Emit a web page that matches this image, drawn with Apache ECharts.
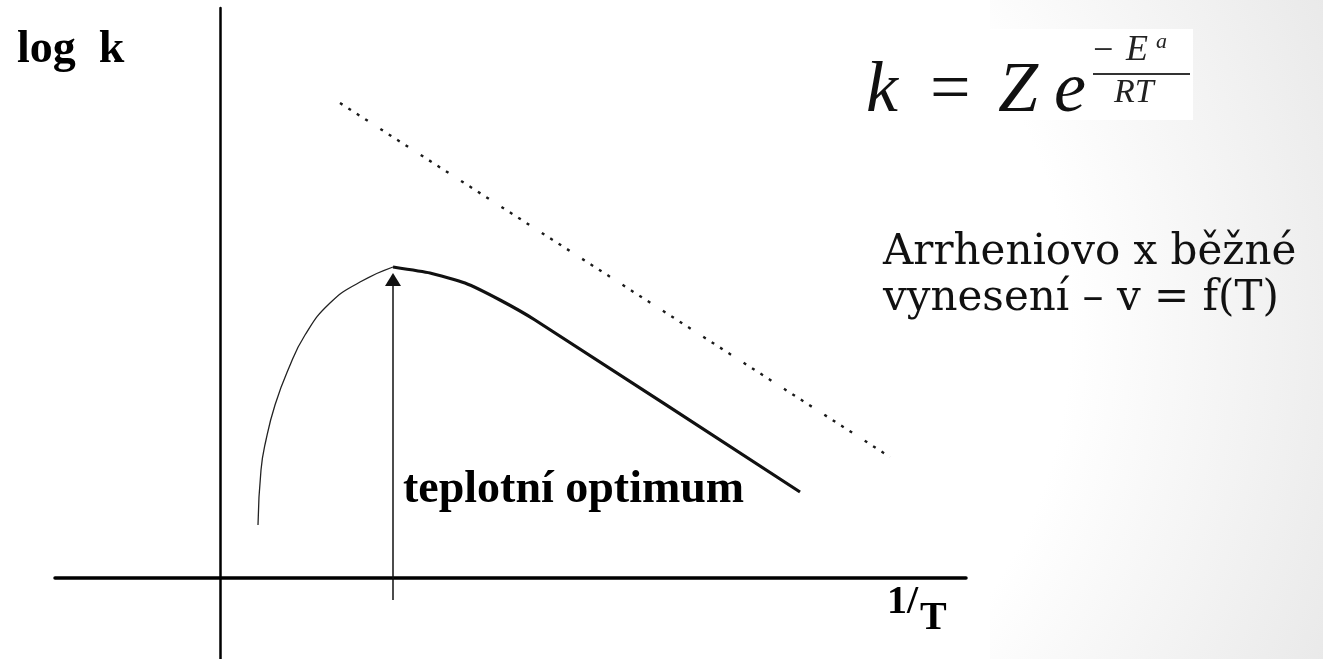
<!DOCTYPE html>
<html>
<head>
<meta charset="utf-8">
<script src="https://cdn.jsdelivr.net/npm/echarts@6/dist/echarts.min.js"></script>
<style>
  html, body { margin: 0; padding: 0; }
  body {
    width: 1323px; height: 659px; overflow: hidden;
    background: radial-gradient(circle at 600px 330px, #ffffff 470px, #e9e9e9 800px);
  }
  #chart { width: 1323px; height: 659px; }
</style>
</head>
<body>
<div id="chart"></div>
<script>
// rostoucí (tenká) část křivky až k optimu
var riseX = [0.38, 0.41, 0.46, 0.55, 0.68, 0.85, 1.10, 1.40, 1.73];
var riseY = [0.53, 1.08, 1.38, 1.73, 2.08, 2.43, 2.75, 2.96, 3.11];
// klesající (tlustá) část za optimem
var fallX = [1.73, 2.10, 2.45, 2.80, 3.15, 5.80];
var fallY = [3.11, 3.05, 2.95, 2.78, 2.58, 0.86];
// tečkovaná Arrheniova přímka
var lineX = [1.20, 6.70];
var lineY = [4.75, 1.21];
// šipka – teplotní optimum
var arrowX = [1.73, 1.73];
var arrowY = [-0.22, 2.985];

function pairs(xs, ys) {
  return xs.map(function (x, i) { return [x, ys[i]]; });
}

var myChart = echarts.init(document.getElementById('chart'));

var serif = '"Liberation Serif", "Times New Roman", serif';

var option = {
  animation: false,
  backgroundColor: 'transparent',
  grid: { left: 55, right: 357, top: 8, bottom: 0, containLabel: false },
  xAxis: {
    type: 'value', min: -1.65, max: 7.46,
    axisLine: { onZero: true, lineStyle: { color: '#000', width: 3.5 } },
    axisTick: { show: false }, axisLabel: { show: false }, splitLine: { show: false }
  },
  yAxis: {
    type: 'value', min: -0.81, max: 5.70,
    axisLine: { onZero: true, lineStyle: { color: '#000', width: 2.5 } },
    axisTick: { show: false }, axisLabel: { show: false }, splitLine: { show: false }
  },
  graphic: [
    // bílá plocha obrázku a rámeček vzorce
    { type: 'rect', z: -100, shape: { x: 0, y: 0, width: 990, height: 659 }, style: { fill: '#fff' } },
    { type: 'rect', z: -100, shape: { x: 838, y: 29, width: 355, height: 91 }, style: { fill: '#fff' } },
    // popisky grafu
    { type: 'text', x: 17, y: 50, style: { text: 'log  k', font: 'bold 46px ' + serif, fill: '#000', verticalAlign: 'middle' } },
    { type: 'text', x: 403, y: 490, style: { text: 'teplotní optimum', font: 'bold 46px ' + serif, fill: '#000', verticalAlign: 'middle' } },
    { type: 'text', x: 887, y: 603, style: { text: '1/', font: 'bold 40px ' + serif, fill: '#000', verticalAlign: 'middle' } },
    { type: 'text', x: 920, y: 619, style: { text: 'T', font: 'bold 40px ' + serif, fill: '#000', verticalAlign: 'middle' } },
    // vzorec k = Z e^(-Ea/RT)
    { type: 'text', x: 866, y: 92, style: { text: 'k', font: 'italic 72px ' + serif, fill: '#111', verticalAlign: 'middle' } },
    { type: 'text', x: 930, y: 92, style: { text: '=', font: '72px ' + serif, fill: '#111', verticalAlign: 'middle' } },
    { type: 'text', x: 998, y: 92, style: { text: 'Z', font: 'italic 72px ' + serif, fill: '#111', verticalAlign: 'middle' } },
    { type: 'text', x: 1054, y: 92, style: { text: 'e', font: 'italic 72px ' + serif, fill: '#111', verticalAlign: 'middle' } },
    { type: 'text', x: 1093, y: 52, style: { text: '−', font: '36px ' + serif, fill: '#222', verticalAlign: 'middle' } },
    { type: 'text', x: 1126, y: 51, style: { text: 'E', font: 'italic 36px ' + serif, fill: '#222', verticalAlign: 'middle' } },
    { type: 'text', x: 1156, y: 42, style: { text: 'a', font: 'italic 22px ' + serif, fill: '#222', verticalAlign: 'middle' } },
    { type: 'rect', shape: { x: 1093, y: 73, width: 97, height: 2 }, style: { fill: '#333' } },
    { type: 'text', x: 1114, y: 93, style: { text: 'RT', font: 'italic 34px ' + serif, fill: '#222', verticalAlign: 'middle' } },
    // komentář
    { type: 'text', x: 883, y: 253, style: { text: 'Arrheniovo x běžné', font: '42px "DejaVu Serif", serif', fill: '#111', verticalAlign: 'middle' } },
    { type: 'text', x: 883, y: 299, style: { text: 'vynesení – v = f(T)', font: '42px "DejaVu Serif", serif', fill: '#111', verticalAlign: 'middle' } }
  ],
  series: [
    {
      name: 'rise', type: 'line', data: pairs(riseX, riseY), smooth: 0.5,
      symbol: 'none', lineStyle: { color: '#222', width: 1.3 }
    },
    {
      name: 'fall', type: 'line', data: pairs(fallX, fallY), smooth: 0.15,
      symbol: 'none', lineStyle: { color: '#111', width: 3.2 }
    },
    {
      name: 'arrhenius', type: 'line', data: pairs(lineX, lineY),
      symbol: 'none', lineStyle: { color: '#1a1a1a', width: 2.4, type: [3, 7, 3, 7, 3, 7, 3, 15] }
    },
    {
      name: 'optimum', type: 'line', symbol: 'none',
      data: [
        [arrowX[0], arrowY[0]],
        { value: [arrowX[1], arrowY[1]], symbol: 'triangle', symbolSize: [16, 13] }
      ],
      lineStyle: { color: '#111', width: 1.5 },
      itemStyle: { color: '#111' }
    }
  ]
};

myChart.setOption(option);
</script>
</body>
</html>
